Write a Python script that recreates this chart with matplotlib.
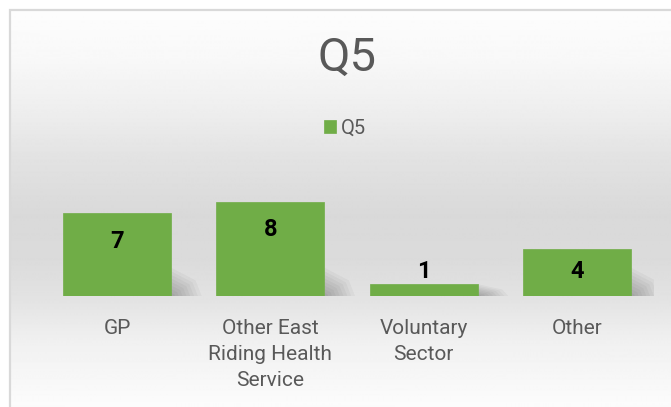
import numpy as np
import matplotlib
matplotlib.use("Agg")
import matplotlib.pyplot as plt
from matplotlib.patches import Rectangle, Polygon

categories = ["GP", "Other East\nRiding Health\nService", "Voluntary\nSector", "Other"]
values = [7, 8, 1, 4]
series_name = "Q5"
title = "Q5"

W, H = 671, 407
fig = plt.figure(figsize=(W / 100, H / 100), dpi=100)
FONT = ["Roboto", "DejaVu Sans"]
plt.rcParams["font.family"] = FONT

# background gradient over chart area
bg = fig.add_axes([11 / W, 0, 1 - 11 / W, (H - 11) / H])
bg.set_axis_off()
ys = np.arange(11, H + 1)
pos = [11, 60, 110, 160, 215, 260, 300, 340, 407]
val = [253, 248, 238, 226, 217, 219, 227, 240, 252]
g = np.interp(ys, pos, val) / 255.0
img = np.repeat(g[:, None], 2, axis=1)
bg.imshow(img, cmap="gray", vmin=0, vmax=1, aspect="auto", extent=[0, 1, 0, 1])
bg.set_xlim(0, 1)
bg.set_ylim(0, 1)

# chart border (top and left visible)
fig.patches.append(Rectangle((9.5 / W, -0.1), 2, (H - 9.5) / H + 0.1, transform=fig.transFigure,
                             fill=False, edgecolor="#d9d9d9", linewidth=1.6))

# main axes
px_per_unit = 11.8
base_px = 296
left_px = 117 - 153.3 / 2
ax = fig.add_axes([left_px / W, (H - base_px) / H, 4 * 153.3 / W, 9 * px_per_unit / H])
ax.set_xlim(-0.5, 3.5)
ax.set_ylim(0, 9)
ax.patch.set_alpha(0)
for s in ax.spines.values():
    s.set_visible(False)
ax.tick_params(left=False, labelleft=False, bottom=False)

x = np.arange(len(values))
bw = 0.705

# soft shadows
for xi, v in zip(x, values):
    xr = xi + bw / 2
    hmax = min(v, 2.4)
    for k in range(8):
        f = 1 - k / 8
        w = 0.2 * f
        h = hmax * f
        poly = Polygon([(xr, 0), (xr + w, 0), (xr + w * 0.8, h * 0.55), (xr, h)],
                       closed=True, facecolor="black", edgecolor="none", alpha=0.035, zorder=1)
        ax.add_patch(poly)

ax.bar(x, values, width=bw, color="#70ad47", edgecolor="#70ad47", linewidth=0.5,
       zorder=2, label=series_name)

for xi, v in zip(x, values):
    ylab = max(v - 28 / px_per_unit, 25 / px_per_unit)
    ax.text(xi, ylab, str(v), ha="center", va="center", fontsize=17, fontweight="bold",
            color="black", zorder=3)

ax.set_xticks(x)
ax.set_xticklabels(categories, fontsize=15, color="#595959", linespacing=1.48)
ax.tick_params(axis="x", pad=13)

fig.text(347 / W, 1 - 58 / H, title, ha="center", va="center", fontsize=34, color="#595959")

fig.legend(loc="center", bbox_to_anchor=(345 / W, 1 - 128 / H), frameon=False,
           fontsize=14.5, labelcolor="#595959", handlelength=0.6, handleheight=0.6,
           handletextpad=0.2, borderaxespad=0)

fig.savefig("out.png", dpi=100)
